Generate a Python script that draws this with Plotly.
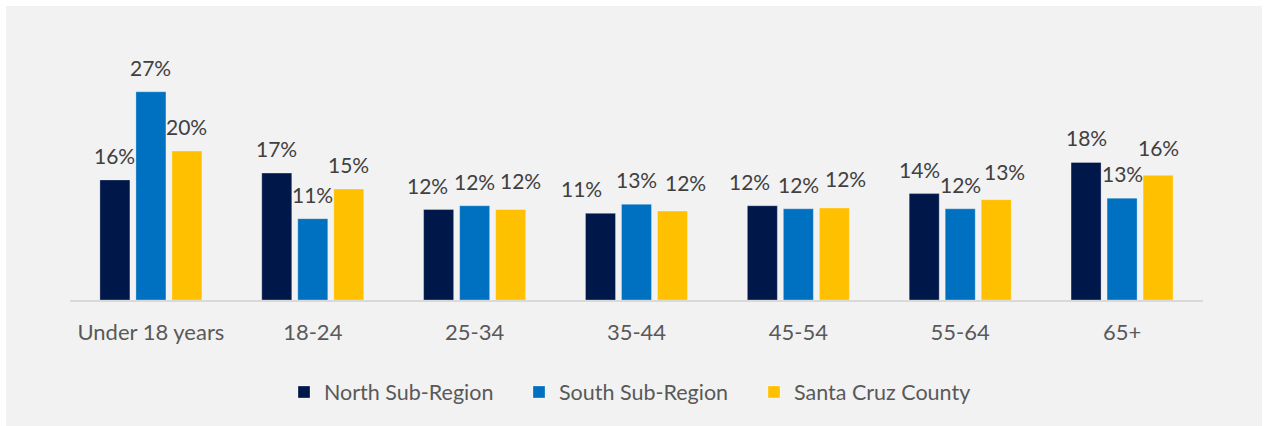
import plotly.graph_objects as go

categories = ["Under 18 years", "18-24", "25-34", "35-44", "45-54", "55-64", "65+"]
north = [0.158, 0.167, 0.119, 0.114, 0.124, 0.140, 0.181]
south = [0.274, 0.107, 0.124, 0.126, 0.120, 0.120, 0.134]
county = [0.196, 0.146, 0.119, 0.117, 0.121, 0.132, 0.164]

series = [
    ("North Sub-Region", north, "#00174A"),
    ("South Sub-Region", south, "#0070C0"),
    ("Santa Cruz County", county, "#FFC000"),
]

# hand nudges of crowded value labels (px): (series index, category) -> (dx, dy)
label_nudge = {
    (0, "25-34"): (-11, 0), (2, "25-34"): (10, 5),
    (0, "35-44"): (-19, 0), (2, "35-44"): (13, 4),
    (0, "45-54"): (-13, 0), (2, "45-54"): (11, 5),
    (0, "55-64"): (-5, 0), (2, "55-64"): (8, 4),
    (2, "65+"): (0, 3),
}

FONT = "Lato, 'Open Sans', sans-serif"

W, H = 1265, 426
L, R, T, B = 70, 62, 70, 126
pw, ph = W - L - R, H - T - B
BARGAP, GROUPGAP = 0.3325, 1 / 6
slot = pw / len(categories) * (1 - BARGAP) / len(series)

fig = go.Figure()
for i, (name, vals, color) in enumerate(series):
    fig.add_trace(go.Bar(
        x=categories, y=vals, name=name,
        marker=dict(color=color, line=dict(color="rgba(255,255,255,0.3)", width=1)),
        hoverinfo="skip",
    ))
    for cat, v in zip(categories, vals):
        dx, dy = label_nudge.get((i, cat), (0, 0))
        fig.add_annotation(
            x=cat, y=v, text=f"{v:.0%}", showarrow=False,
            xanchor="center", yanchor="bottom",
            xshift=(i - 1) * slot + dx, yshift=10 + dy,
            font=dict(size=21, color="#404040", family=FONT),
        )

fig.update_layout(
    width=W, height=H,
    margin=dict(l=L, r=R, t=T, b=B),
    paper_bgcolor="white",
    plot_bgcolor="rgba(0,0,0,0)",
    barmode="group",
    bargap=BARGAP,
    bargroupgap=GROUPGAP,
    font=dict(family=FONT, color="#595959", size=21),
    xaxis=dict(showline=True, linecolor="#D9D9D9", linewidth=2, ticks="",
               ticklabelstandoff=12,
               tickfont=dict(size=22, color="#595959"), showgrid=False),
    yaxis=dict(range=[0, ph / 760], visible=False, showgrid=False, zeroline=False),
    legend=dict(orientation="h", x=0.5, xanchor="center", y=(300 - 392) / ph,
                yanchor="middle", font=dict(size=21.5, color="#595959"),
                bgcolor="rgba(0,0,0,0)", entrywidth=190, traceorder="normal"),
    shapes=[dict(type="rect", xref="paper", yref="paper", layer="below",
                 x0=(6 - L) / pw, x1=(1262 - L) / pw,
                 y0=(300 - 430) / ph, y1=(300 - 6) / ph,
                 fillcolor="#F2F2F2", line=dict(width=0))],
)

fig.write_html("out.html", config={"displayModeBar": False},
               post_script="document.body.style.margin='0';")
